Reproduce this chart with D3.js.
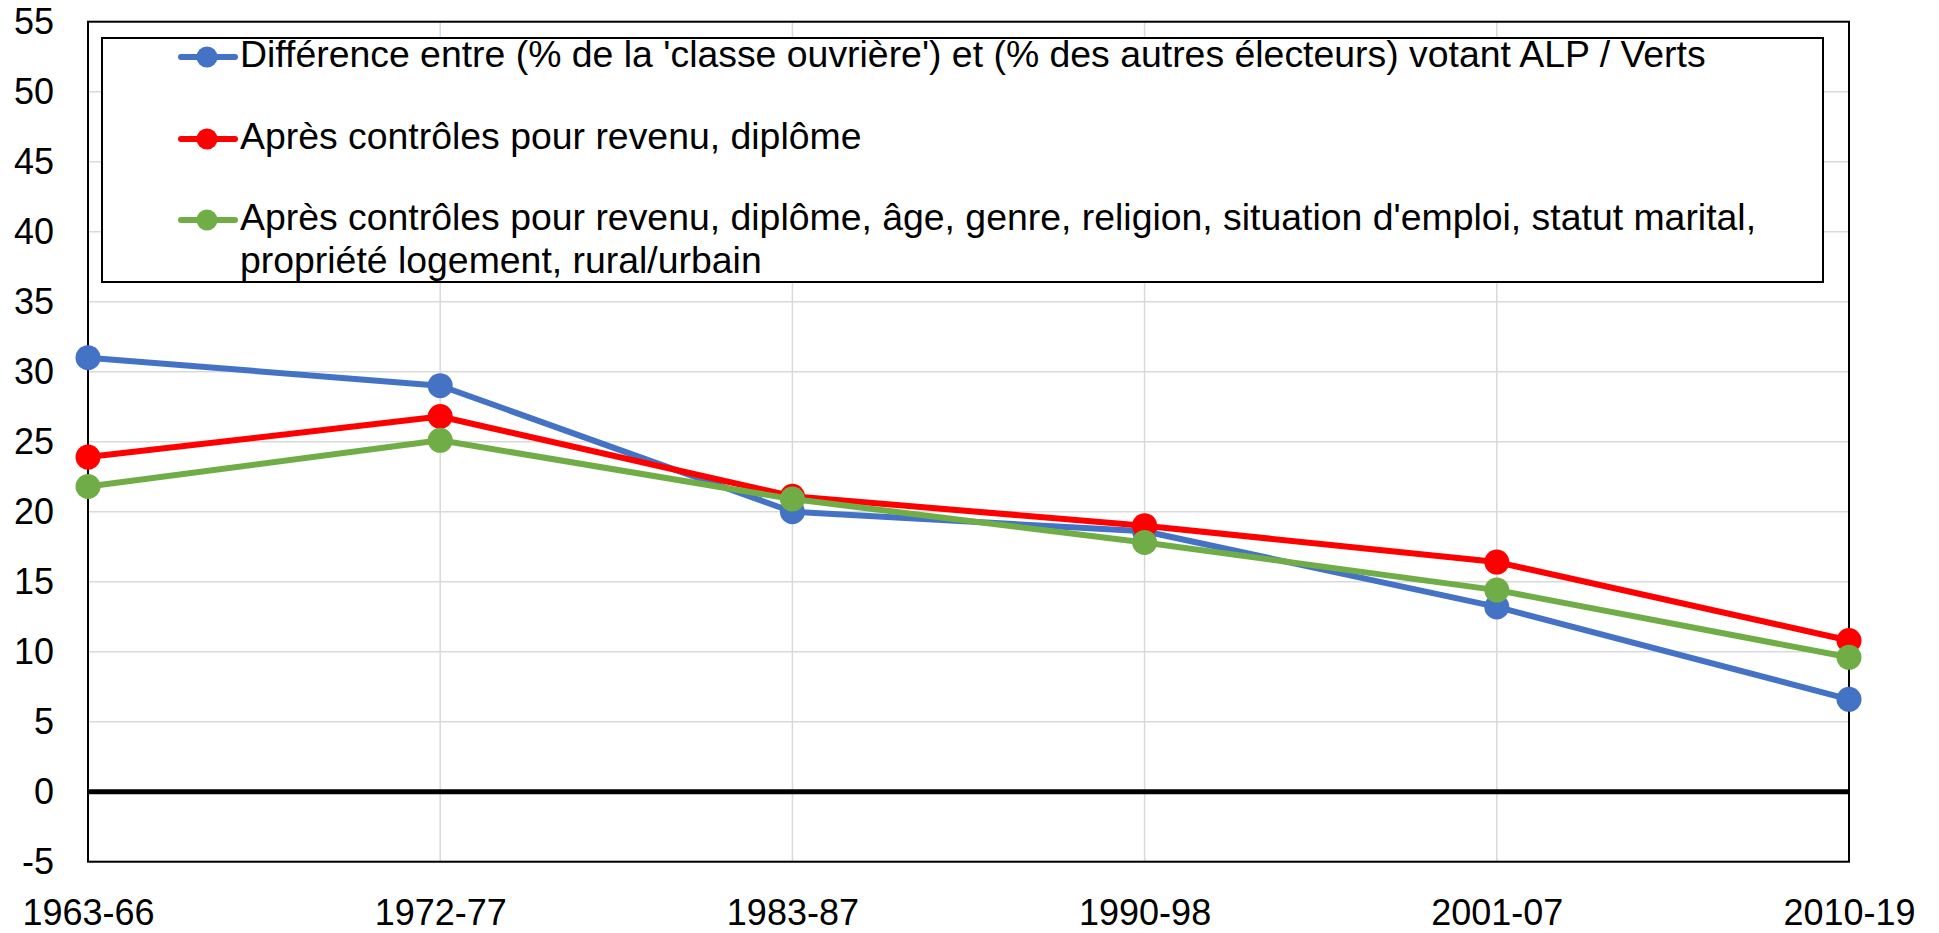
<!DOCTYPE html>
<html>
<head>
<meta charset="utf-8">
<script src="https://cdnjs.cloudflare.com/ajax/libs/d3/7.8.5/d3.min.js"></script>
<style>
  html, body { margin: 0; padding: 0; background: #fff; }
  svg { display: block; font-family: "Liberation Sans", Arial, sans-serif; }
</style>
</head>
<body>
<svg id="chart" width="1939" height="933"></svg>
<script>
const periods = ['1963-66', '1972-77', '1983-87', '1990-98', '2001-07', '2010-19'];
const yTicks = [-5, 0, 5, 10, 15, 20, 25, 30, 35, 40, 45, 50, 55];

const rawGap = [31.0, 29.0, 20.0, 18.6, 13.2, 6.6];
const ctrlIncomeEdu = [23.9, 26.8, 21.1, 19.0, 16.4, 10.8];
const ctrlAll = [21.8, 25.1, 20.9, 17.8, 14.4, 9.6];

const seriesNames = [
    ["Différence entre (% de la 'classe ouvrière') et (% des autres électeurs) votant ALP / Verts"],
    ["Après contrôles pour revenu, diplôme"],
    ["Après contrôles pour revenu, diplôme, âge, genre, religion, situation d'emploi, statut marital,",
     "propriété logement, rural/urbain"]
];
const seriesColors = ['#4472C4', '#FF0000', '#70AD47'];
const seriesValues = [rawGap, ctrlIncomeEdu, ctrlAll];

const svg = d3.select('#chart');
const plotL = 88, plotR = 1849, plotT = 21.7, plotB = 861.7;
const font = '"Liberation Sans", Arial, sans-serif';

const x = d3.scalePoint().domain(periods).range([plotL, plotR]);
const y = d3.scaleLinear().domain([-5, 55]).range([plotB, plotT]);

// gridlines
svg.append('g').selectAll('line').data(yTicks).enter().append('line')
    .attr('x1', plotL).attr('x2', plotR)
    .attr('y1', d => y(d)).attr('y2', d => y(d))
    .attr('stroke', '#d9d9d9').attr('stroke-width', 1.5);
svg.append('g').selectAll('line').data(periods).enter().append('line')
    .attr('x1', d => x(d)).attr('x2', d => x(d))
    .attr('y1', plotT).attr('y2', plotB)
    .attr('stroke', '#d9d9d9').attr('stroke-width', 1.5);

// y axis labels (plain hyphen for negatives, like Excel)
const yAxis = d3.axisLeft(y).tickValues(yTicks).tickSize(0).tickPadding(34)
    .tickFormat(d => String(d));
svg.append('g').attr('transform', `translate(${plotL},0)`).call(yAxis)
    .attr('font-size', 36).attr('font-family', font)
    .call(g => g.select('.domain').remove())
    .selectAll('text').attr('fill', '#000');

// x axis labels
const xAxis = d3.axisBottom(x).tickSize(0).tickPadding(0);
svg.append('g').attr('transform', `translate(0,${plotB})`).call(xAxis)
    .attr('font-size', 36).attr('font-family', font)
    .call(g => g.select('.domain').remove())
    .selectAll('text').attr('fill', '#000')
    .attr('dy', null).attr('y', 54).attr('dominant-baseline', 'middle');

// plot border
svg.append('rect').attr('x', plotL).attr('y', plotT)
    .attr('width', plotR - plotL).attr('height', plotB - plotT)
    .attr('fill', 'none').attr('stroke', '#000').attr('stroke-width', 2);

// zero line
svg.append('line').attr('x1', plotL).attr('x2', plotR)
    .attr('y1', y(0)).attr('y2', y(0))
    .attr('stroke', '#000').attr('stroke-width', 5);

const line = d3.line().x((d, i) => x(periods[i])).y(d => y(d));

seriesValues.forEach((vals, s) => {
    const g = svg.append('g');
    g.append('path').datum(vals).attr('d', line)
        .attr('fill', 'none').attr('stroke', seriesColors[s])
        .attr('stroke-width', 6).attr('stroke-linejoin', 'round');
    g.selectAll('circle').data(vals).enter().append('circle')
        .attr('cx', (d, i) => x(periods[i])).attr('cy', d => y(d))
        .attr('r', 12.5).attr('fill', seriesColors[s]);
});

// legend
const legend = svg.append('g').attr('font-family', font);
legend.append('rect').attr('x', 102).attr('y', 38)
    .attr('width', 1823 - 102).attr('height', 282 - 38)
    .attr('fill', '#fff').attr('stroke', '#000').attr('stroke-width', 2);
const rowY = [57, 139, 220];
const legendTexts = [];
seriesNames.forEach((lines, s) => {
    const row = legend.append('g').attr('transform', `translate(0,${rowY[s]})`);
    row.append('line').attr('x1', 181).attr('x2', 235).attr('y1', 0).attr('y2', 0)
        .attr('stroke', seriesColors[s]).attr('stroke-width', 6).attr('stroke-linecap', 'round');
    row.append('circle').attr('cx', 207).attr('cy', 0).attr('r', 10.5).attr('fill', seriesColors[s]);
    lines.forEach((t, k) => {
        legendTexts.push(row.append('text').attr('x', 240).attr('y', k * 43)
            .attr('dominant-baseline', 'middle')
            .attr('font-size', 36).attr('fill', '#000').text(t));
    });
});
// the first legend entry runs to about x = 1706 in the original
const w0 = legendTexts[0].node().getComputedTextLength();
const legendSize = Math.max(34, Math.min(40, 36 * 1466 / w0));
legendTexts.forEach(t => t.attr('font-size', legendSize));
</script>
</body>
</html>
